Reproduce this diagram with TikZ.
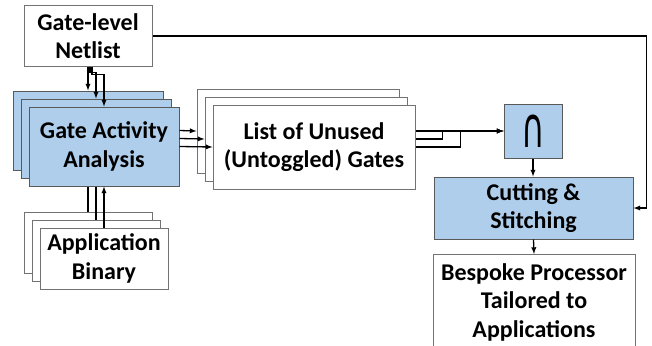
\documentclass[tikz,border=0pt]{standalone}
\usepackage{fontspec}
\setmainfont{Carlito}
\newfontfamily\symfont{DejaVu Sans}
\usepackage{tikz}
\usetikzlibrary{arrows,positioning,calc}
\definecolor{boxblue}{RGB}{174,206,235}
\tikzset{
  box/.style={draw=black!55,fill=white,line width=1pt,align=center,inner sep=0pt,
    font=\bfseries\fontsize{24}{28.5}\selectfont},
  bluebox/.style={box,draw=black!65,fill=boxblue},
  conn/.style={line width=1.3pt,>=latex}
}
\begin{document}
\begin{tikzpicture}[x=1pt,y=-1pt]
      \useasboundingbox (0,0) rectangle (652,345);

      \node [box,minimum width=128,minimum height=60] (netlist) at (88,36) {Gate-level\\ Netlist};

      \foreach \i/\s in {3/16,2/8} {
        \node [bluebox,minimum width=150,minimum height=79] (gaa-\i) at (104-\s,146.5-\s) {};
      }
      \node [bluebox,minimum width=150,minimum height=79] (gaa) at (104,146.5) {Gate Activity\\ Analysis};

      \foreach \i/\s in {3/16,2/8} {
        \node [box,minimum width=128,minimum height=61] (app-\i) at (104-\s,258.5-\s) {};
      }
      \node [box,minimum width=128,minimum height=61] (app) at (104,258.5) {Application\\ Binary};

      \foreach \i/\s in {3/16,2/8} {
        \node [box,minimum width=202,minimum height=84] (list-\i) at (314-\s,147-\s) {};
      }
      \node [box,minimum width=202,minimum height=84] (list) at (314,147) {List of Unused\\ (Untoggled) Gates};

      \node [bluebox,minimum width=58,minimum height=54] (cap) at (533,131) {\symfont\mdseries\fontsize{34}{34}\selectfont\scalebox{0.95}[1.65]{∩}};
      \node [bluebox,minimum width=199,minimum height=62] (cut) at (533.5,208) {Cutting \&\\ Stitching};
      \node [box,minimum width=202,minimum height=95,anchor=north] (bespoke) at (534,254) {Bespoke Processor\\ Tailored to\\ Applications};

      % netlist into the activity stack
      \draw[conn,->] (netlist.south) -- (gaa-3.north);
      \draw[conn,->] ($(netlist.south)+(2,0)$) -- ++(0,6) -| (gaa-2.north);
      \draw[conn,->] ($(netlist.south)+(4,0)$) -- ++(0,8) -| (gaa.north);

      % binaries into the activity stack
      \draw[conn] (app-3.north) -- (app-3.north |- gaa.south);
      \draw[conn] (app-2.north) -- (app-2.north |- gaa.south);
      \draw[conn,->] (app.north) -- (gaa.south);

      % activity to list of unused gates
      \draw[conn,->] (gaa-3.east -| gaa.east) -- (list-3.west);
      \draw[conn,->] (gaa-2.east -| gaa.east) -- (list-2.west);
      \draw[conn,->] (gaa.east) -- (list.west);

      % lists into the intersection
      \draw[conn,->] (list-3.east -| list.east) -- (cap.west);
      \draw[conn,->] (list-2.east -| list.east) -- ++(27,0) |- (cap.west);
      \draw[conn,->] (list.east) -- ++(45,0) |- (cap.west);

      \draw[conn,->] (cap.south) -- (cap.south |- cut.north);
      \draw[conn,->] (netlist.east) -| ($(cut.east)+(13,0)$) -- (cut.east);
      \draw[conn,->] (cut.south) -- (bespoke.north);
\end{tikzpicture}
\end{document}
